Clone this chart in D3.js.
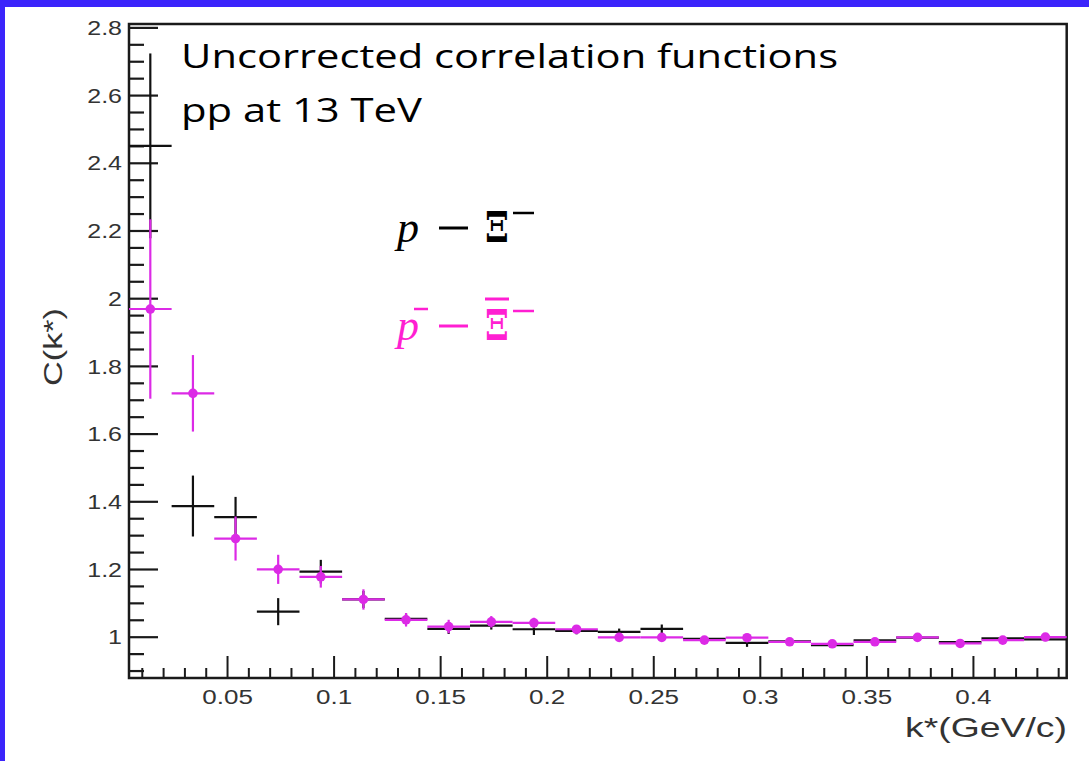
<!DOCTYPE html>
<html><head><meta charset="utf-8">
<script src="https://cdn.jsdelivr.net/npm/d3@7"></script>
<style>body{margin:0;background:#fff}svg{display:block}</style>
</head><body>
<svg id="chart" width="1089" height="761"></svg>
<script>
// ---- data ----
const kCenters = [0.014,0.034,0.054,0.074,0.094,0.114,0.134,0.154,0.174,0.194,0.214,0.234,0.254,0.274,0.294,0.314,0.334,0.354,0.374,0.394,0.414,0.434];
const pXi     = [2.450,1.386,1.353,1.074,1.192,1.110,1.053,1.023,1.033,1.022,1.017,1.014,1.023,0.994,0.982,0.986,0.975,0.989,0.997,0.984,0.995,0.992];
const pXiErr  = [0.273,0.090,0.060,0.040,0.035,0.025,0.015,0.015,0.012,0.017,0.010,0.010,0.013,0.008,0.012,0.006,0.006,0.005,0.005,0.005,0.005,0.005];
const apXi    = [1.968,1.719,1.290,1.199,1.177,1.110,1.050,1.030,1.044,1.041,1.022,0.998,0.998,0.990,0.997,0.985,0.979,0.985,0.998,0.980,0.990,0.999];
const apXiErr = [0.265,0.113,0.065,0.043,0.032,0.030,0.020,0.020,0.017,0.015,0.012,0.010,0.010,0.010,0.008,0.008,0.007,0.006,0.006,0.006,0.006,0.006];
const binHalfWidth = 0.01;
const xTickValues = [0.05,0.1,0.15,0.2,0.25,0.3,0.35,0.4];
const xTickLabels = ["0.05","0.1","0.15","0.2","0.25","0.3","0.35","0.4"];
const yTickValues = [1,1.2,1.4,1.6,1.8,2,2.2,2.4,2.6,2.8];
const yTickLabels = ["1","1.2","1.4","1.6","1.8","2","2.2","2.4","2.6","2.8"];

const svg = d3.select("#chart");
const W = 1089, H = 761;
const L = 129, R = 1066.7, T = 24, B = 678;
const x = d3.scaleLinear().domain([0.004, 0.444]).range([L, R]);
const y = d3.scaleLinear().domain([0.878, 2.81]).range([B, T]);

// blue slide border
svg.append("rect").attr("x",0).attr("y",0).attr("width",W).attr("height",7).attr("fill","#3b24fb");
svg.append("rect").attr("x",0).attr("y",0).attr("width",5).attr("height",H).attr("fill","#3b24fb");

const tickColor = "#1a1a1a";
function stretch(sel, f){
  sel.each(function(){
    const w = this.getComputedTextLength();
    d3.select(this).attr("textLength", w*f).attr("lengthAdjust","spacingAndGlyphs");
  });
}

// minor ticks
const yMinor = d3.range(0.9, 2.801, 0.05).map(v=>+v.toFixed(2)).filter(v=>!yTickValues.some(t=>Math.abs(t-v)<1e-6));
const xMinor = d3.range(0.01, 0.4401, 0.01).map(v=>+v.toFixed(2)).filter(v=>!xTickValues.some(t=>Math.abs(t-v)<1e-6));

const gyMinor = svg.append("g").attr("transform",`translate(${L},0)`)
  .call(d3.axisLeft(y).tickValues(yMinor).tickSize(-15).tickFormat(""));
gyMinor.select(".domain").remove();
gyMinor.selectAll("line").attr("stroke",tickColor).attr("stroke-width",2.2);

const gxMinor = svg.append("g").attr("transform",`translate(0,${B})`)
  .call(d3.axisBottom(x).tickValues(xMinor).tickSize(-10).tickFormat(""));
gxMinor.select(".domain").remove();
gxMinor.selectAll("line").attr("stroke",tickColor).attr("stroke-width",2);

// major axes
const gy = svg.append("g").attr("transform",`translate(${L},0)`)
  .call(d3.axisLeft(y).tickValues(yTickValues).tickSize(-29).tickPadding(7)
    .tickFormat((d,i)=>yTickLabels[i]));
gy.select(".domain").remove();
gy.selectAll("line").attr("stroke",tickColor).attr("stroke-width",2.2);
gy.selectAll("text").attr("font-family","'Liberation Sans', Arial, sans-serif")
  .attr("font-size",20).attr("fill","#333").attr("dy","0.36em");
stretch(gy.selectAll("text"), 1.25);

const gx = svg.append("g").attr("transform",`translate(0,${B})`)
  .call(d3.axisBottom(x).tickValues(xTickValues).tickSize(-22).tickPadding(12)
    .tickFormat((d,i)=>xTickLabels[i]));
gx.select(".domain").remove();
gx.selectAll("line").attr("stroke",tickColor).attr("stroke-width",2);
gx.selectAll("text").attr("font-family","'Liberation Sans', Arial, sans-serif")
  .attr("font-size",20).attr("fill","#333");
stretch(gx.selectAll("text"), 1.3);

// frame
svg.append("rect").attr("x",L).attr("y",T).attr("width",R-L).attr("height",B-T)
  .attr("fill","none").attr("stroke","#1a1a1a").attr("stroke-width",2.5);

// data: error crosses
function drawSeries(vals, errs, color, marker){
  const g = svg.append("g");
  const pts = kCenters.map((k,i)=>({k, v:vals[i], e:errs[i]}));
  g.selectAll("line.h").data(pts).enter().append("line")
    .attr("x1",d=>x(d.k-binHalfWidth)).attr("x2",d=>x(d.k+binHalfWidth))
    .attr("y1",d=>y(d.v)).attr("y2",d=>y(d.v))
    .attr("stroke",color).attr("stroke-width",2.2);
  g.selectAll("line.v").data(pts).enter().append("line")
    .attr("x1",d=>x(d.k)).attr("x2",d=>x(d.k))
    .attr("y1",d=>y(d.v-d.e)).attr("y2",d=>y(d.v+d.e))
    .attr("stroke",color).attr("stroke-width",2.2);
  if(marker){
    g.selectAll("circle").data(pts).enter().append("circle")
      .attr("cx",d=>x(d.k)).attr("cy",d=>y(d.v)).attr("r",4.8).attr("fill",color);
  }
}
drawSeries(pXi, pXiErr, "#111", false);
drawSeries(apXi, apXiErr, "#dc2ae6", true);

// axis titles
svg.append("text").attr("transform","translate(62,347) rotate(-90)")
  .attr("text-anchor","middle").attr("font-family","'Liberation Sans', Arial, sans-serif")
  .attr("font-size",26).attr("fill","#333").attr("textLength",78).attr("lengthAdjust","spacingAndGlyphs")
  .text("C(k*)");
svg.append("text").attr("x",1067).attr("y",737).attr("text-anchor","end")
  .attr("font-family","'Liberation Sans', Arial, sans-serif")
  .attr("font-size",28).attr("fill","#333").attr("textLength",162).attr("lengthAdjust","spacingAndGlyphs")
  .text("k*(GeV/c)");

// annotation text
svg.append("text").attr("x",181).attr("y",68).attr("font-family","'Open Sans', sans-serif")
  .attr("font-size",33).attr("fill","#000").attr("textLength",657).attr("lengthAdjust","spacingAndGlyphs")
  .text("Uncorrected correlation functions");
svg.append("text").attr("x",181).attr("y",122).attr("font-family","'Open Sans', sans-serif")
  .attr("font-size",33).attr("fill","#000").attr("textLength",241).attr("lengthAdjust","spacingAndGlyphs")
  .text("pp at 13 TeV");

// legend
function legendRow(baseY, color, bar){
  const ff = "'Liberation Serif', 'DejaVu Serif', serif";
  svg.append("text").attr("x",397).attr("y",baseY).attr("font-family",ff).attr("font-style","italic")
    .attr("font-size",44).attr("fill",color).text("p");
  svg.append("line").attr("x1",439).attr("x2",468).attr("y1",baseY-14).attr("y2",baseY-14)
    .attr("stroke",color).attr("stroke-width",3);
  svg.append("text").attr("x",485).attr("y",baseY).attr("font-family","'DejaVu Serif', serif")
    .attr("font-weight","bold").attr("font-size",42).attr("fill",color)
    .attr("textLength",24).attr("lengthAdjust","spacingAndGlyphs").text("Ξ");
  svg.append("line").attr("x1",513).attr("x2",534).attr("y1",baseY-29).attr("y2",baseY-29)
    .attr("stroke",color).attr("stroke-width",2.5);
  if(bar){
    svg.append("line").attr("x1",414).attr("x2",428).attr("y1",baseY-31).attr("y2",baseY-31)
      .attr("stroke",color).attr("stroke-width",2.5);
    svg.append("line").attr("x1",485).attr("x2",509).attr("y1",baseY-41).attr("y2",baseY-41)
      .attr("stroke",color).attr("stroke-width",3);
  }
}
legendRow(242, "#000", false);
legendRow(340, "#ff1fd2", true);
</script>
</body></html>
